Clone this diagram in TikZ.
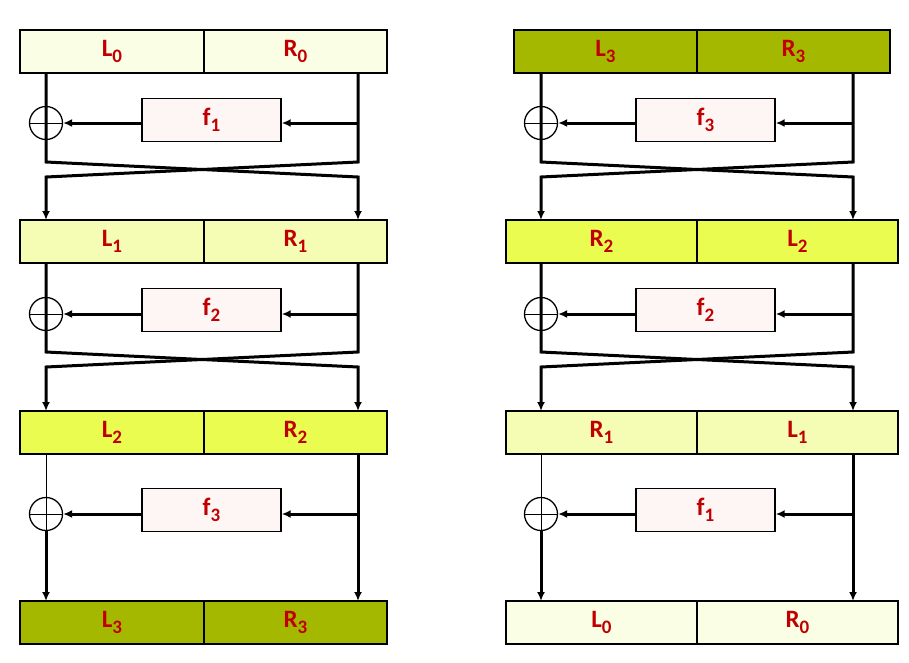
\documentclass[tikz,border=0pt]{standalone}
\usepackage{fontspec}
\setmainfont{Carlito}
\usetikzlibrary{calc,positioning,arrows.meta}

\definecolor{shadeA}{HTML}{FAFEE4}
\definecolor{shadeB}{HTML}{F4FDB3}
\definecolor{shadeC}{HTML}{EAFC50}
\definecolor{shadeD}{HTML}{A5B800}
\definecolor{roundpink}{HTML}{FEF5F5}
\definecolor{labelred}{HTML}{C00000}

\newcommand{\idx}[1]{\raisebox{-5.5pt}{\fontsize{19}{19}\selectfont #1}}

\begin{document}
\begin{tikzpicture}[x=1pt,y=-1pt,
  every node/.style={font=\fontsize{25}{27}\selectfont\bfseries,text=labelred,inner sep=0pt},
  half/.style={draw,line width=0.9pt,minimum height=42pt,anchor=north west},
  fbox/.style={draw,line width=1.4pt,fill=roundpink,minimum width=139pt,minimum height=43pt},
  xor/.style={draw,circle,line width=1.3pt,minimum size=33pt,
    path picture={\draw[line width=1pt]
      (path picture bounding box.north) -- (path picture bounding box.south)
      (path picture bounding box.west) -- (path picture bounding box.east);}},
  frame/.style={draw,line width=2.2pt},
  wire/.style={line width=3pt},
  thinwire/.style={line width=1pt},
  flow/.style={wire,-{Latex[length=9pt,width=8pt]}}]

\useasboundingbox (0,0) rectangle (909,662);

% column lines
\coordinate (aLx) at (46,0);
\coordinate (aRx) at (358,0);
\coordinate (bLx) at (541,0);
\coordinate (bRx) at (853,0);

% ---------- encryption ----------
\node [half,fill=shadeA,minimum width=183pt] (aL0) at (20,30) {L\idx{0}};
\node [half,fill=shadeA,minimum width=182pt] (aR0) at (aL0.north east) {R\idx{0}};
\draw [frame] (aL0.north west) rectangle (aR0.south east);

\node [half,fill=shadeB,minimum width=183pt] (aL1) at (20,220) {L\idx{1}};
\node [half,fill=shadeB,minimum width=182pt] (aR1) at (aL1.north east) {R\idx{1}};
\draw [frame] (aL1.north west) rectangle (aR1.south east);

\node [half,fill=shadeC,minimum width=183pt] (aL2) at (20,411) {L\idx{2}};
\node [half,fill=shadeC,minimum width=182pt] (aR2) at (aL2.north east) {R\idx{2}};
\draw [frame] (aL2.north west) rectangle (aR2.south east);

\node [half,fill=shadeD,minimum width=183pt] (aL3) at (20,601) {L\idx{3}};
\node [half,fill=shadeD,minimum width=182pt] (aR3) at (aL3.north east) {R\idx{3}};
\draw [frame] (aL3.north west) rectangle (aR3.south east);

\node [xor] (ax1) at (46,123) {};
\node [fbox] (af1) at (211.5,120) {f\idx{1}};
\draw [flow] (aL0.south -| aLx) -- (ax1.center) -- (46,162) -- (358,177) -- (aR1.north -| aRx);
\draw [flow] (aR0.south -| aRx) -- (358,162) -- (46,177) -- (aL1.north -| aLx);
\draw [flow] (ax1 -| aRx) -- (ax1 -| af1.east);
\draw [flow] (ax1 -| af1.west) -- (ax1.east);

\node [xor] (ax2) at (46,314) {};
\node [fbox] (af2) at (211.5,310) {f\idx{2}};
\draw [flow] (aL1.south -| aLx) -- (ax2.center) -- (46,352) -- (358,367) -- (aR2.north -| aRx);
\draw [flow] (aR1.south -| aRx) -- (358,352) -- (46,367) -- (aL2.north -| aLx);
\draw [flow] (ax2 -| aRx) -- (ax2 -| af2.east);
\draw [flow] (ax2 -| af2.west) -- (ax2.east);

\node [xor] (ax3) at (46,514) {};
\node [fbox] (af3) at (211.5,510) {f\idx{3}};
\draw [thinwire] (aL2.south -| aLx) -- (ax3.north);
\draw [flow] (ax3.south) -- (aL3.north -| aLx);
\draw [flow] (aR2.south -| aRx) -- (aR3.north -| aRx);
\draw [flow] (ax3 -| aRx) -- (ax3 -| af3.east);
\draw [flow] (ax3 -| af3.west) -- (ax3.east);

% ---------- decryption ----------
\node [half,fill=shadeD,minimum width=182pt] (bL0) at (514,30) {L\idx{3}};
\node [half,fill=shadeD,minimum width=192pt] (bR0) at (bL0.north east) {R\idx{3}};
\draw [frame] (bL0.north west) rectangle (bR0.south east);

\node [half,fill=shadeC,minimum width=190pt] (bL1) at (506,220) {R\idx{2}};
\node [half,fill=shadeC,minimum width=200pt] (bR1) at (bL1.north east) {L\idx{2}};
\draw [frame] (bL1.north west) rectangle (bR1.south east);

\node [half,fill=shadeB,minimum width=190pt] (bL2) at (506,411) {R\idx{1}};
\node [half,fill=shadeB,minimum width=200pt] (bR2) at (bL2.north east) {L\idx{1}};
\draw [frame] (bL2.north west) rectangle (bR2.south east);

\node [half,fill=shadeA,minimum width=190pt] (bL3) at (506,601) {L\idx{0}};
\node [half,fill=shadeA,minimum width=200pt] (bR3) at (bL3.north east) {R\idx{0}};
\draw [frame] (bL3.north west) rectangle (bR3.south east);

\node [xor] (bx1) at (541,123) {};
\node [fbox] (bf1) at (705.5,120) {f\idx{3}};
\draw [flow] (bL0.south -| bLx) -- (bx1.center) -- (541,162) -- (853,177) -- (bR1.north -| bRx);
\draw [flow] (bR0.south -| bRx) -- (853,162) -- (541,177) -- (bL1.north -| bLx);
\draw [flow] (bx1 -| bRx) -- (bx1 -| bf1.east);
\draw [flow] (bx1 -| bf1.west) -- (bx1.east);

\node [xor] (bx2) at (541,314) {};
\node [fbox] (bf2) at (705.5,310) {f\idx{2}};
\draw [flow] (bL1.south -| bLx) -- (bx2.center) -- (541,352) -- (853,367) -- (bR2.north -| bRx);
\draw [flow] (bR1.south -| bRx) -- (853,352) -- (541,367) -- (bL2.north -| bLx);
\draw [flow] (bx2 -| bRx) -- (bx2 -| bf2.east);
\draw [flow] (bx2 -| bf2.west) -- (bx2.east);

\node [xor] (bx3) at (541,514) {};
\node [fbox] (bf3) at (705.5,510) {f\idx{1}};
\draw [thinwire] (bL2.south -| bLx) -- (bx3.north);
\draw [flow] (bx3.south) -- (bL3.north -| bLx);
\draw [flow] (bR2.south -| bRx) -- (bR3.north -| bRx);
\draw [flow] (bx3 -| bRx) -- (bx3 -| bf3.east);
\draw [flow] (bx3 -| bf3.west) -- (bx3.east);
\end{tikzpicture}
\end{document}
